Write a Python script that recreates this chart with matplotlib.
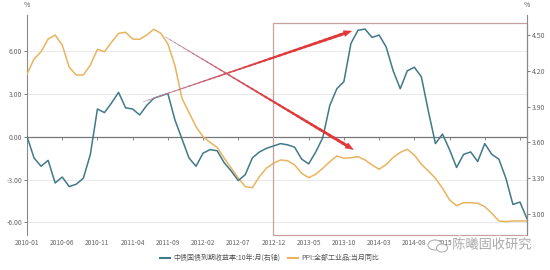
import numpy as np
import pandas as pd
import matplotlib
matplotlib.use("Agg")
import matplotlib.pyplot as plt
from matplotlib.collections import LineCollection
from matplotlib.patches import Polygon, Rectangle, Ellipse
import matplotlib.transforms as mtransforms
import matplotlib.patheffects as pe

plt.rcParams['font.family'] = ['Noto Sans CJK SC', 'DejaVu Sans']
plt.rcParams['axes.unicode_minus'] = False

# ---------------- data ----------------
months = [d.strftime('%Y-%m') for d in pd.date_range('2010-01-01', '2015-12-01', freq='MS')]

yield_10y = [3.65, 3.47, 3.40, 3.45, 3.26, 3.31, 3.23, 3.25, 3.30, 3.50,
             3.88, 3.85, 3.93, 4.02, 3.89, 3.88, 3.83, 3.91, 3.97, 3.99,
             4.01, 3.79, 3.63, 3.47, 3.40, 3.51, 3.54, 3.53, 3.43, 3.36,
             3.28, 3.33, 3.47, 3.52, 3.55, 3.57, 3.59, 3.58, 3.56, 3.46,
             3.42, 3.52, 3.64, 3.91, 4.05, 4.11, 4.43, 4.54, 4.55, 4.48,
             4.50, 4.40, 4.20, 4.05, 4.20, 4.23, 4.15, 3.86, 3.59, 3.67,
             3.54, 3.39, 3.50, 3.52, 3.44, 3.59, 3.50, 3.46, 3.30, 3.08,
             3.10, 2.96]

ppi = [4.37, 5.44, 5.95, 6.84, 7.12, 6.42, 4.86, 4.32, 4.32, 5.02,
       6.12, 5.95, 6.61, 7.24, 7.31, 6.84, 6.82, 7.12, 7.52, 7.24,
       6.50, 5.00, 2.70, 1.70, 0.70, 0.00, -0.40, -0.75, -1.50, -2.20,
       -2.90, -3.50, -3.57, -2.80, -2.20, -1.86, -1.63, -1.68, -1.98, -2.56,
       -2.87, -2.63, -2.21, -1.75, -1.35, -1.51, -1.47, -1.40, -1.63, -1.98,
       -2.28, -1.95, -1.45, -1.10, -0.88, -1.28, -1.93, -2.40, -2.91, -3.61,
       -4.43, -4.83, -4.62, -4.62, -4.66, -4.90, -5.36, -5.90, -5.95, -5.90,
       -5.90, -5.90]

left_ticks = [-6, -3, 0, 3, 6]
right_ticks = [3.00, 3.30, 3.60, 3.90, 4.20, 4.50]
tick_step = 5

name_yield = '中债国债到期收益率:10年:月(右轴)'
name_ppi = 'PPI:全部工业品:当月同比'

# ---------------- figure ----------------
W, H = 550, 270
fig = plt.figure(figsize=(W / 100, H / 100), dpi=100)
fig.patch.set_facecolor('white')
ax = fig.add_axes([27 / W, 1 - 235 / H, 500 / W, 220 / H])
ax2 = ax.twinx()

c_blue = '#41788a'
c_orange = '#e8b45e'
gray_txt = '#666666'
axis_gray = '#8a8a8a'

x = np.arange(len(months))
ax.plot(x, ppi, color=c_orange, lw=1.1, zorder=3)
ax2.plot(x, yield_10y, color=c_blue, lw=1.1, zorder=3)

ax.set_xlim(0, len(months) - 1)
ax.set_ylim(-6.884, 8.522)
ax2.set_ylim(2.824, 4.668)

# grid
for v in left_ticks:
    if v != 0:
        ax.axhline(v, color='#e9e9e9', lw=0.7, zorder=0)

for s in ['top', 'bottom']:
    ax.spines[s].set_visible(False)
    ax2.spines[s].set_visible(False)
ax2.spines['left'].set_visible(False)
ax.spines['right'].set_visible(False)
ax.spines['left'].set_color(axis_gray)
ax.spines['left'].set_linewidth(0.8)
ax2.spines['right'].set_color(axis_gray)
ax2.spines['right'].set_linewidth(0.8)

ax.set_yticks(left_ticks)
ax.set_yticklabels([f'{v:.2f}' for v in left_ticks])
ax2.set_yticks(right_ticks)
ax2.set_yticklabels([f'{v:.2f}' for v in right_ticks])
ax.tick_params(axis='y', labelsize=5, colors=gray_txt, length=2, width=0.6, pad=1.5)
ax2.tick_params(axis='y', labelsize=5, colors=gray_txt, length=2, width=0.6, pad=1.5)
for t in ax.get_yticklines() + ax2.get_yticklines():
    t.set_color(axis_gray)

xt = list(range(0, len(months), tick_step))
ax.set_xticks(xt)
ax.set_xticklabels([months[i] for i in xt])
ax.tick_params(axis='x', labelsize=4.8, colors=gray_txt, length=0, pad=3)

# zero axis line with small ticks
ylo, yhi = ax.get_ylim()
zero_loc = (0 - ylo) / (yhi - ylo)
sec = ax.secondary_xaxis(zero_loc)
sec.set_xticks(xt)
sec.set_xticklabels([])
sec.tick_params(axis='x', direction='out', length=2, width=0.6, color='#777777')
sec.spines['bottom'].set_color('#777777')
sec.spines['bottom'].set_linewidth(0.9)

# % labels
fig.text(27 / W, 1 - 5 / H, '%', fontsize=5, color=gray_txt, ha='center', va='center')
fig.text(527 / W, 1 - 5 / H, '%', fontsize=5, color=gray_txt, ha='center', va='center')

# highlight box (2012-12 onward)
box_start = months.index('2012-12')
rect = Rectangle((box_start, ylo), len(months) - 1 - box_start, 7.98 - ylo,
                 fill=False, edgecolor='#c9a0a0', lw=0.9, zorder=4, clip_on=False)
ax.add_patch(rect)


# tapered arrows
def tapered_arrow(tail, tip, w0, w1, c0, c1, head_len=8.0, head_w=6.0):
    T = ax.transData
    p0 = np.array(T.transform(tail))
    p1 = np.array(T.transform(tip))
    d = p1 - p0
    L = np.hypot(*d)
    u = d / L
    perp = np.array([-u[1], u[0]])
    base = p1 - u * head_len
    n = 40
    pts = np.linspace(0, 1, n + 1)
    segs = []
    for a, b in zip(pts[:-1], pts[1:]):
        segs.append([p0 + (base - p0) * a, p0 + (base - p0) * (b + 0.01)])
    f = (pts[:-1] + pts[1:]) / 2
    widths = (w0 + (w1 - w0) * f) * 72 / 100
    c0 = np.array(matplotlib.colors.to_rgb(c0))
    c1 = np.array(matplotlib.colors.to_rgb(c1))
    cols = [tuple(c0 + (c1 - c0) * min(1, k * 1.6)) for k in f]
    lc = LineCollection(segs, linewidths=widths, colors=cols,
                        transform=mtransforms.IdentityTransform(), zorder=6,
                        capstyle='butt')
    ax2.add_collection(lc, autolim=False)
    head = Polygon([p1, base + perp * head_w / 2, base - perp * head_w / 2],
                   closed=True, facecolor=c1, edgecolor=c1, lw=0.3,
                   transform=mtransforms.IdentityTransform(), zorder=7)
    ax2.add_patch(head)


fig.canvas.draw()
tapered_arrow((16.5, 2.45), (46.1, 7.40), 0.6, 3.0, '#b88aa8', '#e0393b')
tapered_arrow((19.6, 7.00), (46.35, -0.90), 0.6, 3.0, '#b88aa8', '#e0393b')

# legend
from matplotlib.lines import Line2D
handles = [Line2D([], [], color=c_blue, lw=1.5), Line2D([], [], color=c_orange, lw=1.5)]
leg = fig.legend(handles, [name_yield, name_ppi], loc='center',
                 bbox_to_anchor=(0.49, 1 - 258 / H), ncol=2, frameon=False,
                 fontsize=5, handlelength=1.5, handletextpad=0.5, columnspacing=1.0)
for t in leg.get_texts():
    t.set_color('#555555')

# watermark
fig.text(492 / W, 1 - 245 / H, '陈曦固收研究', fontsize=9.5, color='#a9a9a9',
         ha='center', va='center', zorder=20,
         path_effects=[pe.withStroke(linewidth=2.5, foreground='white')])
wm = fig.add_axes([424 / W, 1 - 256 / H, 28 / W, 20 / H])
wm.set_xlim(0, 28)
wm.set_ylim(0, 20)
wm.axis('off')
wm.add_patch(Ellipse((11, 11), 14, 10, fill=True, facecolor='white', edgecolor='#b0b0b0', lw=0.8))
wm.add_patch(Ellipse((18, 8), 11, 8, fill=True, facecolor='white', edgecolor='#b0b0b0', lw=0.8))

fig.savefig('out.png', dpi=100, facecolor='white')
